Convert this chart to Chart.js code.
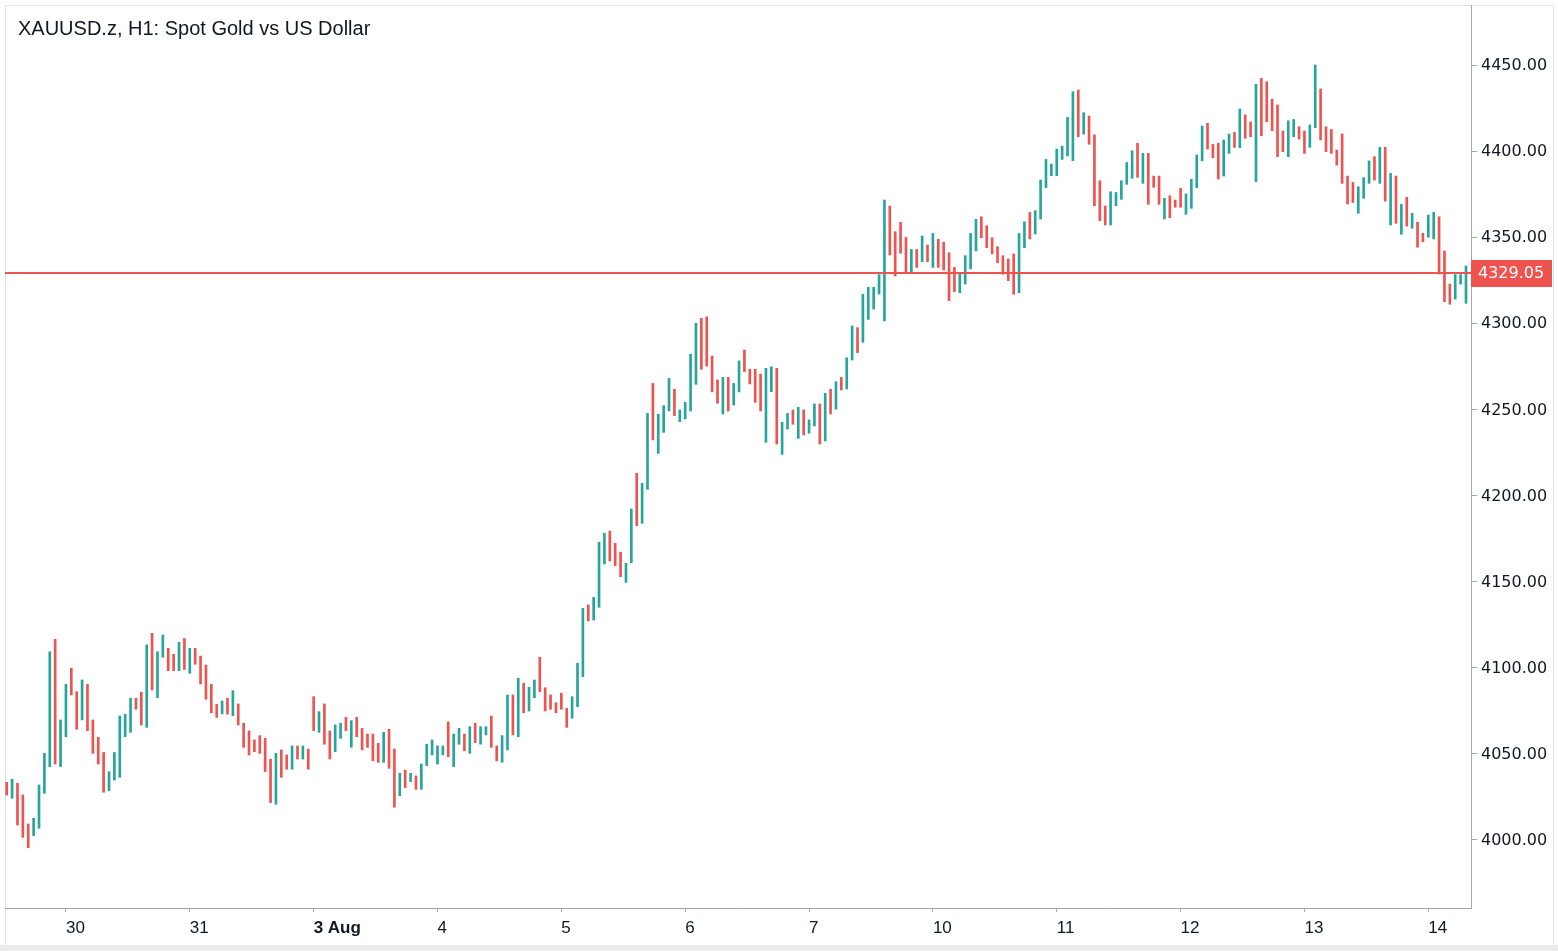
<!DOCTYPE html>
<html>
<head>
<meta charset="utf-8">
<script src="https://cdn.jsdelivr.net/npm/chart.js@4.4.1/dist/chart.umd.min.js"></script>
<style>
html,body{margin:0;padding:0;background:#fff;overflow:hidden;}
canvas{display:block;}
</style>
</head>
<body>
<canvas id="c" width="1558" height="951"></canvas>
<script>
const chartTitle = "XAUUSD.z, H1: Spot Gold vs US Dollar";
const lastPrice = 4329.05;

const highs = [
4033.5,4035.2,4032.9,4026.1,4009.3,4012.6,4031.9,4050.3,4109.3,4116.5,
4069.7,4090.4,4099.7,4086.1,4092.9,4090.4,4069.7,4059.6,4050.8,4039.7,
4050.8,4072.0,4073.0,4082.3,4082.3,4085.8,4113.2,4120.0,4109.3,4119.0,
4111.3,4107.8,4114.8,4117.0,4111.3,4111.3,4106.8,4101.6,4090.4,4078.8,
4080.7,4082.3,4086.7,4079.0,4067.8,4063.3,4058.1,4060.6,4059.0,4046.9,
4050.3,4052.3,4049.4,4054.6,4054.6,4054.6,4052.8,4083.2,4074.5,4079.0,
4063.3,4066.8,4067.8,4071.2,4069.3,4071.2,4064.8,4061.5,4061.5,4056.1,
4062.5,4064.3,4052.8,4038.7,4040.6,4038.7,4037.2,4044.1,4055.6,4058.1,
4054.6,4054.6,4068.6,4061.5,4064.8,4061.5,4065.8,4067.8,4065.8,4065.8,
4072.0,4054.6,4060.6,4084.2,4084.2,4093.9,4091.0,4088.7,4092.9,4106.1,
4088.4,4084.2,4079.7,4085.2,4076.5,4083.2,4102.6,4134.5,4136.5,4140.9,
4172.9,4178.1,4179.4,4172.3,4167.1,4160.7,4192.2,4212.9,4207.1,4247.7,
4265.1,4247.2,4252.2,4268.0,4261.7,4249.7,4254.1,4282.0,4300.0,4302.9,
4303.8,4281.0,4267.1,4268.6,4268.6,4265.1,4278.2,4284.5,4273.3,4273.3,
4270.6,4273.9,4274.8,4273.9,4242.5,4247.7,4249.7,4251.2,4249.7,4243.9,
4253.2,4253.2,4259.4,4261.7,4266.1,4268.6,4280.0,4298.5,4297.5,4316.9,
4320.9,4320.9,4328.3,4371.6,4368.1,4353.2,4358.6,4349.9,4342.9,4342.9,
4350.7,4345.5,4352.2,4348.8,4347.1,4341.0,4332.5,4329.6,4339.3,4352.2,
4360.4,4361.9,4356.7,4349.7,4344.5,4339.3,4337.4,4340.3,4352.2,4359.0,
4364.4,4365.4,4383.2,4395.2,4392.5,4401.2,4402.9,4419.6,4434.5,4435.5,
4422.3,4420.4,4409.4,4382.8,4368.1,4376.4,4376.0,4382.8,4393.4,4400.2,
4404.5,4398.7,4398.7,4385.5,4385.5,4372.6,4374.1,4371.6,4378.4,4375.1,
4383.6,4397.7,4414.6,4416.1,4404.0,4404.5,4406.5,4409.9,4410.8,4424.5,
4421.1,4416.9,4438.8,4442.2,4440.3,4430.1,4426.8,4411.7,4417.6,4418.4,
4414.2,4411.7,4415.2,4450.0,4436.1,4414.2,4412.6,4400.6,4410.0,4385.5,
4381.8,4379.3,4384.6,4394.3,4396.8,4402.2,4402.2,4387.1,4385.5,4369.1,
4373.2,4363.9,4358.7,4352.3,4362.9,4364.5,4361.9,4342.0,4322.8,4328.3,
4328.3,4333.3
];

const lows = [
4026.1,4024.2,4008.7,4001.5,3995.5,4002.5,4006.8,4027.1,4042.6,4044.1,
4042.6,4060.0,4084.2,4064.3,4069.7,4063.5,4050.3,4044.1,4027.7,4028.6,
4034.8,4036.4,4060.0,4062.5,4075.9,4066.8,4065.4,4087.1,4082.6,4106.1,
4098.3,4098.3,4098.3,4099.0,4096.8,4102.0,4090.6,4081.7,4073.9,4071.2,
4073.2,4073.0,4072.2,4066.8,4053.8,4049.4,4051.3,4050.3,4039.7,4021.7,
4020.7,4036.4,4041.1,4041.1,4047.0,4047.0,4041.1,4063.5,4062.5,4055.6,
4047.0,4051.3,4059.0,4063.5,4053.8,4060.0,4052.3,4053.8,4046.0,4045.1,
4045.1,4041.6,4019.0,4025.7,4030.4,4033.9,4029.4,4029.4,4043.2,4049.4,
4044.1,4049.4,4048.3,4042.6,4055.6,4051.8,4050.3,4056.5,4055.6,4061.0,
4053.8,4046.0,4045.1,4052.3,4061.0,4060.0,4073.9,4074.9,4082.6,4086.1,
4074.9,4075.9,4073.9,4075.9,4065.4,4070.7,4077.4,4094.8,4127.2,4127.7,
4135.1,4160.3,4162.0,4159.3,4152.9,4149.6,4161.0,4182.5,4183.9,4203.6,
4232.3,4224.5,4236.7,4249.1,4246.4,4242.9,4244.5,4249.1,4264.6,4273.3,
4275.2,4260.2,4253.6,4247.4,4249.1,4252.6,4260.2,4271.9,4264.8,4254.1,
4249.1,4230.9,4260.3,4229.9,4223.9,4238.6,4241.4,4233.2,4235.2,4236.2,
4240.4,4229.9,4231.7,4247.4,4250.1,4261.3,4261.9,4278.7,4283.0,4289.0,
4302.3,4308.3,4317.0,4301.4,4339.7,4327.5,4340.7,4329.1,4329.1,4332.5,
4335.8,4335.8,4332.5,4332.5,4331.0,4313.2,4318.4,4317.8,4322.8,4331.6,
4342.0,4349.7,4343.9,4340.3,4335.2,4328.5,4324.8,4316.9,4317.8,4343.9,
4349.0,4351.9,4360.6,4378.8,4385.7,4385.7,4395.2,4397.2,4394.4,4408.4,
4409.9,4404.0,4368.3,4359.6,4357.1,4357.1,4368.3,4372.0,4380.7,4384.2,
4384.8,4381.3,4369.1,4379.0,4369.1,4360.6,4361.3,4367.4,4367.4,4363.3,
4366.8,4378.8,4394.4,4401.2,4396.2,4383.8,4385.5,4398.7,4402.2,4402.0,
4407.4,4408.4,4382.2,4408.9,4417.1,4411.9,4396.8,4399.7,4396.8,4408.4,
4407.0,4398.7,4402.2,4413.6,4406.5,4399.7,4398.7,4391.9,4381.3,4369.3,
4370.2,4363.9,4372.6,4381.3,4383.2,4381.3,4371.0,4357.1,4358.1,4351.7,
4356.5,4355.2,4344.2,4347.4,4350.0,4349.0,4328.6,4312.6,4311.1,4314.1,
4322.8,4311.6
];

// 1 = bullish (close above open), 0 = bearish
const upBar = [
0,1,0,0,0,1,1,1,1,0,
1,1,0,0,1,0,0,0,0,1,
1,1,1,1,0,0,1,0,1,1,
0,0,1,0,1,0,0,0,0,0,
1,0,1,0,0,0,0,0,0,0,
1,0,0,1,0,1,0,0,1,0,
0,1,1,0,1,0,0,0,0,0,
1,0,0,1,0,1,0,1,1,1,
1,1,0,1,1,0,1,0,1,1,
0,0,1,1,0,1,0,1,1,0,
0,0,0,0,0,1,1,1,0,1,
1,1,0,0,0,1,1,0,1,1,
0,1,1,1,0,1,1,1,1,0,
0,0,0,1,0,1,1,0,0,0,
0,1,1,0,1,1,0,1,0,1,
1,0,1,0,1,0,1,1,0,1,
1,1,1,1,0,0,0,0,1,0,
1,0,1,0,0,0,0,1,1,1,
1,0,0,0,0,0,0,0,1,1,
0,1,1,1,1,1,1,1,1,0,
1,0,0,0,0,1,1,1,1,1,
0,1,0,0,0,1,0,0,0,1,
1,1,1,0,0,0,1,1,0,1,
0,0,1,0,0,0,0,0,1,1,
0,0,1,1,0,0,0,0,0,0,
0,1,1,1,0,1,0,1,0,1,
0,1,0,0,1,1,0,0,0,1,
1,1
];

// day separators: bar index where each day starts, and its label
const dayStartBars = [11, 34, 57, 80, 103, 126, 149, 172, 195, 218, 241, 264];
const dayLabels = ["30", "31", "3 Aug", "4", "5", "6", "7", "10", "11", "12", "13", "14"];

const priceTicks = [4000, 4050, 4100, 4150, 4200, 4250, 4300, 4350, 4400, 4450];

const UP = '#26a69a', DOWN = '#ef5350', TEXT = '#131722', AXIS = '#a3a6af', FRAME = '#e0e3eb';

const framePlugin = {
  id: 'frame',
  beforeDraw(chart) {
    const c = chart.ctx;
    c.save();
    c.fillStyle = '#ffffff';
    c.fillRect(0, 0, chart.width, chart.height);
    c.fillStyle = '#ebebeb';
    c.fillRect(0, 945, chart.width, chart.height - 945);
    c.strokeStyle = FRAME;
    c.lineWidth = 1;
    c.beginPath();
    c.moveTo(5.5, 945); c.lineTo(5.5, 5.5); c.lineTo(1553.5, 5.5); c.lineTo(1553.5, 945);
    c.stroke();
    c.restore();
  },
  afterDraw(chart) {
    const c = chart.ctx, a = chart.chartArea;
    const yp = chart.scales.y.getPixelForValue(lastPrice);
    const y = Math.round(yp);
    c.save();
    c.globalAlpha = 1;
    c.fillStyle = DOWN;
    c.fillRect(a.left, y - 1, a.right - a.left, 2);
    c.fillRect(a.right, y - 13, 81, 27);
    c.fillStyle = '#ffffff';
    c.font = '16px "DejaVu Sans"';
    c.textBaseline = 'middle';
    c.textAlign = 'left';
    c.fillText(lastPrice.toFixed(2), a.right + 7, y + 1);
    c.fillStyle = TEXT;
    c.font = '20px "Liberation Sans"';
    c.fillText(chartTitle, 18, 29);
    c.restore();
  }
};

new Chart(document.getElementById('c'), {
  type: 'bar',
  data: {
    datasets: [{
      data: highs.map((h, i) => ({ x: i, y: [lows[i], h] })),
      backgroundColor: ctx => upBar[ctx.dataIndex] ? UP : DOWN,
      borderWidth: 0,
      borderSkipped: false,
      barThickness: 2
    }]
  },
  options: {
    responsive: false,
    devicePixelRatio: 1,
    animation: false,
    layout: { padding: { left: 5, top: 5, right: 0, bottom: 0 } },
    plugins: { legend: { display: false }, tooltip: { enabled: false }, title: { display: false } },
    scales: {
      x: {
        type: 'linear',
        min: -0.316,
        max: 271.93,
        offset: false,
        afterBuildTicks: s => { s.ticks = dayStartBars.map(v => ({ value: v })); },
        afterFit: s => { s.height = 43; s.paddingLeft = 0; s.paddingRight = 0; },
        grid: { offset: false, drawOnChartArea: false, drawTicks: true, tickLength: 4, tickColor: AXIS },
        border: { display: true, color: AXIS, width: 1 },
        ticks: {
          autoSkip: false,
          maxRotation: 0,
          align: 'start',
          padding: 6,
          color: TEXT,
          font: ctx => ({ family: '"Liberation Sans"', size: 17,
                          weight: /[A-Za-z]/.test(dayLabels[ctx.index] || '') ? 'bold' : 'normal' }),
          callback: (v, i) => dayLabels[i]
        }
      },
      y: {
        position: 'right',
        min: 3960.5,
        max: 4484.85,
        afterBuildTicks: s => { s.ticks = priceTicks.map(v => ({ value: v })); },
        afterFit: s => { s.width = 87; s.paddingTop = 0; s.paddingBottom = 0; },
        grid: { offset: false, drawOnChartArea: false, drawTicks: true, tickLength: 6, tickColor: AXIS },
        border: { display: true, color: AXIS, width: 1 },
        ticks: {
          padding: 4,
          labelOffset: 1,
          color: TEXT,
          font: { family: '"DejaVu Sans"', size: 16 },
          callback: v => Number(v).toFixed(2)
        }
      }
    }
  },
  plugins: [framePlugin]
});
</script>
</body>
</html>
